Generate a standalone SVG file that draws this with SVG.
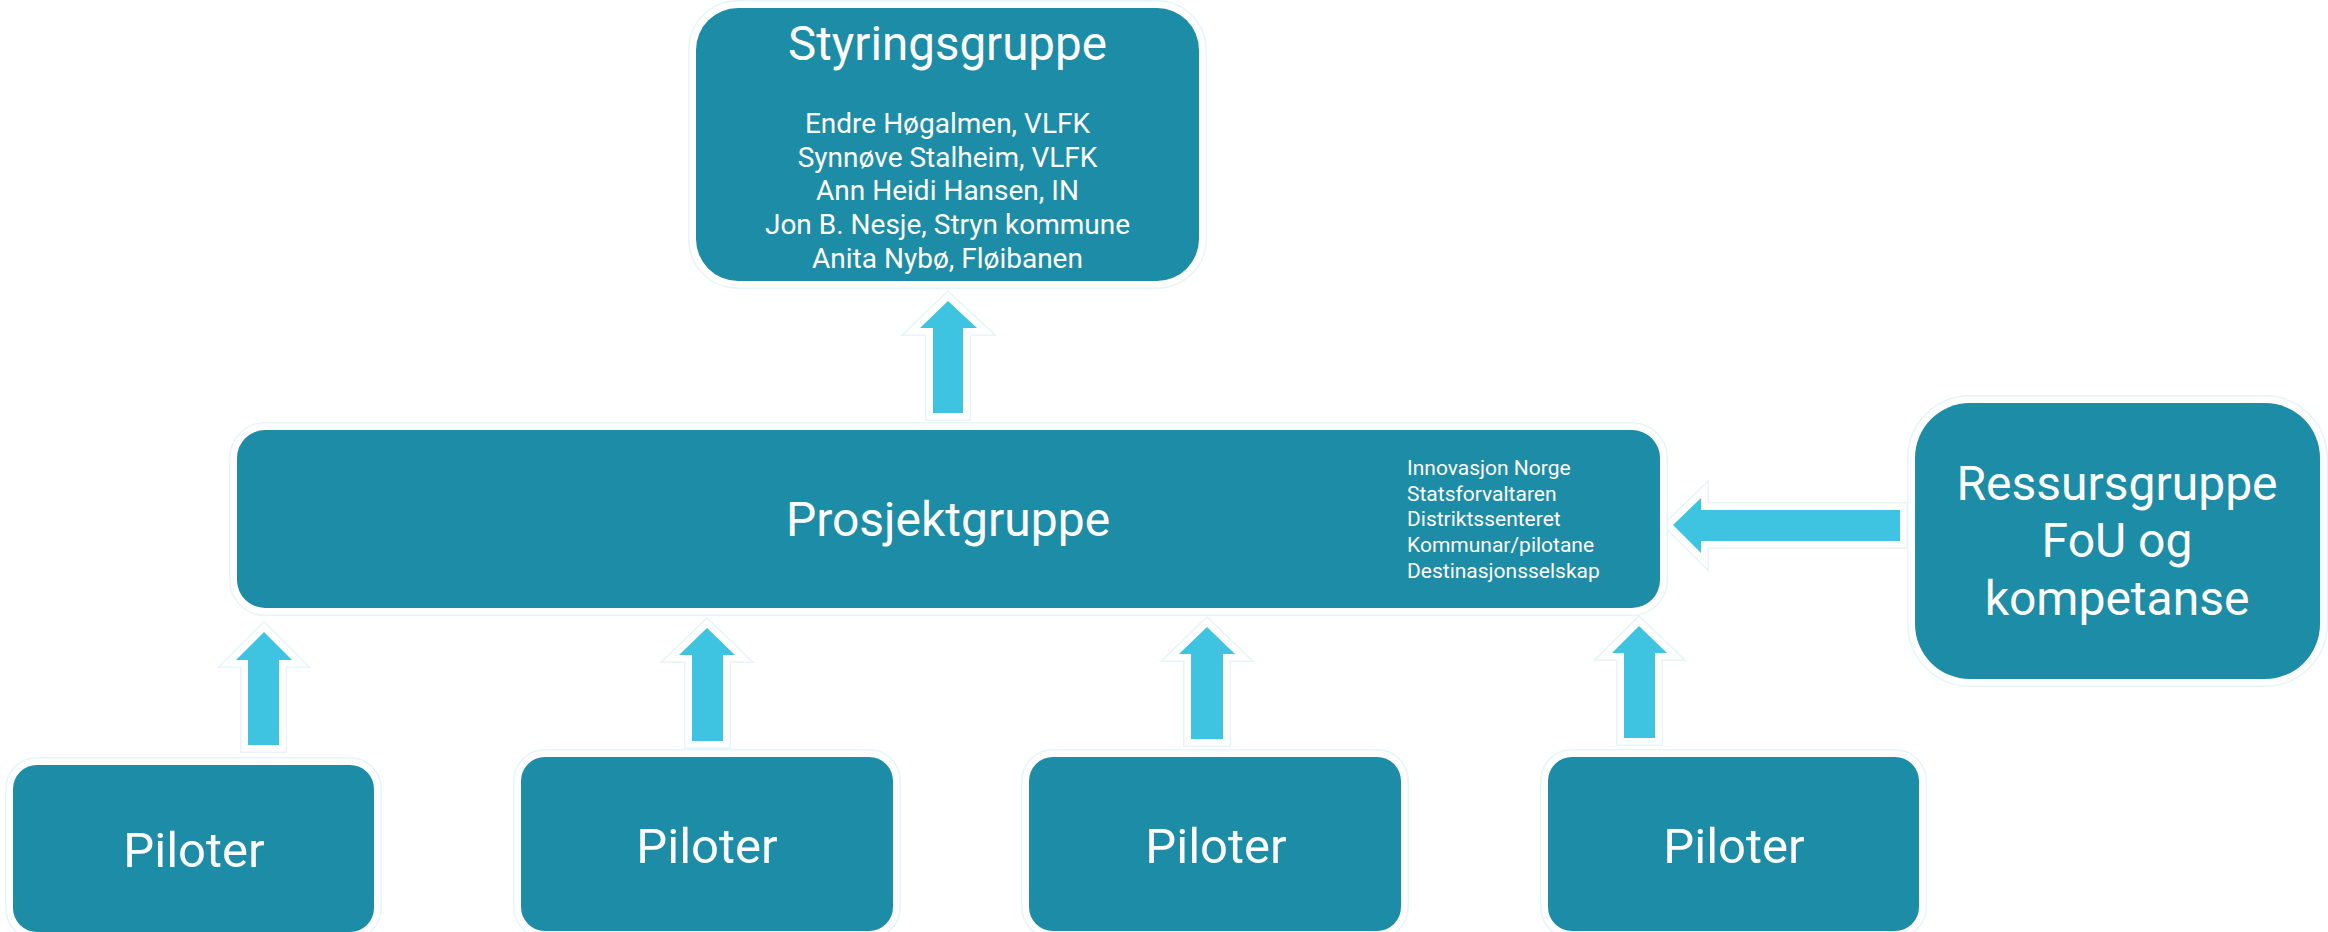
<svg xmlns="http://www.w3.org/2000/svg" width="2328" height="932" viewBox="0 0 2328 932">
  <style>
    .halo1 { fill: none; stroke: #e6f5f9; stroke-width: 16; stroke-linejoin: miter; }
    .halo2 { fill: none; stroke: #ffffff; stroke-width: 13; stroke-linejoin: miter; }
    .box { fill: #1d8ca6; }
    .arrow { fill: #3ec4e0; }
    .t { font-family: Roboto, "Liberation Sans", sans-serif; fill: #ffffff; }
    .big { font-size: 48px; text-anchor: middle; }
    .mid { font-size: 28px; text-anchor: middle; }
    .small { font-size: 21px; text-anchor: start; }
    .pil { font-size: 49px; text-anchor: middle; }
  </style>
  <defs>
    <path id="aUp0" d="M948,301 L977,328 L963,328 L963,413 L933,413 L933,328 L920,328 Z"/>
    <path id="aUp1" d="M264,632 L292,660 L279,660 L279,745 L248,745 L248,660 L236,660 Z"/>
    <path id="aUp2" d="M707,628 L735,655 L723,655 L723,741 L692,741 L692,655 L679,655 Z"/>
    <path id="aUp3" d="M1207,627 L1235,654 L1223,654 L1223,739 L1191,739 L1191,654 L1179,654 Z"/>
    <path id="aUp4" d="M1639,626 L1667,653 L1655,653 L1655,738 L1624,738 L1624,653 L1612,653 Z"/>
    <path id="aLeft" d="M1673,525 L1701,498 L1701,510 L1900,510 L1900,541 L1701,541 L1701,553 Z"/>
  </defs>
  <rect x="0" y="0" width="2328" height="932" fill="#ffffff"/>

  <g id="connectors">
    <use href="#aUp0" class="halo1"/><use href="#aUp0" class="halo2"/><use href="#aUp0" class="arrow"/>
    <use href="#aUp1" class="halo1"/><use href="#aUp1" class="halo2"/><use href="#aUp1" class="arrow"/>
    <use href="#aUp2" class="halo1"/><use href="#aUp2" class="halo2"/><use href="#aUp2" class="arrow"/>
    <use href="#aUp3" class="halo1"/><use href="#aUp3" class="halo2"/><use href="#aUp3" class="arrow"/>
    <use href="#aUp4" class="halo1"/><use href="#aUp4" class="halo2"/><use href="#aUp4" class="arrow"/>
    <use href="#aLeft" class="halo1"/><use href="#aLeft" class="halo2"/><use href="#aLeft" class="arrow"/>
  </g>

  <g id="styringsgruppe">
    <rect x="696" y="8" width="503" height="273" rx="42" class="halo1"/>
    <rect x="696" y="8" width="503" height="273" rx="42" class="halo2"/>
    <rect x="696" y="8" width="503" height="273" rx="42" class="box"/>
    <text x="947.5" y="60" class="t big" style="font-size:47.5px">Styringsgruppe</text>
    <text x="947.5" y="133" class="t mid">Endre Høgalmen, VLFK</text>
    <text x="947.5" y="167" class="t mid">Synnøve Stalheim, VLFK</text>
    <text x="947.5" y="200" class="t mid">Ann Heidi Hansen, IN</text>
    <text x="947.5" y="234" class="t mid">Jon B. Nesje, Stryn kommune</text>
    <text x="947.5" y="268" class="t mid">Anita Nybø, Fløibanen</text>
  </g>

  <g id="prosjektgruppe">
    <rect x="237" y="430" width="1423" height="178" rx="28" class="halo1"/>
    <rect x="237" y="430" width="1423" height="178" rx="28" class="halo2"/>
    <rect x="237" y="430" width="1423" height="178" rx="28" class="box"/>
    <text x="948" y="536" class="t big">Prosjektgruppe</text>
    <text x="1407" y="475" class="t small">Innovasjon Norge</text>
    <text x="1407" y="501" class="t small">Statsforvaltaren</text>
    <text x="1407" y="526" class="t small">Distriktssenteret</text>
    <text x="1407" y="552" class="t small">Kommunar/pilotane</text>
    <text x="1407" y="578" class="t small">Destinasjonsselskap</text>
  </g>

  <g id="ressursgruppe">
    <rect x="1915" y="403" width="405" height="276" rx="55" class="halo1"/>
    <rect x="1915" y="403" width="405" height="276" rx="55" class="halo2"/>
    <rect x="1915" y="403" width="405" height="276" rx="55" class="box"/>
    <text x="2117" y="500" class="t big">Ressursgruppe</text>
    <text x="2117" y="557" class="t big">FoU og</text>
    <text x="2117" y="615" class="t big">kompetanse</text>
  </g>

  <g id="piloter1">
    <rect x="13" y="765" width="361" height="167" rx="24" class="halo1"/>
    <rect x="13" y="765" width="361" height="167" rx="24" class="halo2"/>
    <rect x="13" y="765" width="361" height="167" rx="24" class="box"/>
    <text x="194" y="867" class="t pil">Piloter</text>
  </g>

  <g id="piloter2">
    <rect x="521" y="757" width="372" height="174" rx="24" class="halo1"/>
    <rect x="521" y="757" width="372" height="174" rx="24" class="halo2"/>
    <rect x="521" y="757" width="372" height="174" rx="24" class="box"/>
    <text x="707" y="863" class="t pil">Piloter</text>
  </g>

  <g id="piloter3">
    <rect x="1029" y="757" width="372" height="174" rx="24" class="halo1"/>
    <rect x="1029" y="757" width="372" height="174" rx="24" class="halo2"/>
    <rect x="1029" y="757" width="372" height="174" rx="24" class="box"/>
    <text x="1216" y="863" class="t pil">Piloter</text>
  </g>

  <g id="piloter4">
    <rect x="1548" y="757" width="371" height="174" rx="24" class="halo1"/>
    <rect x="1548" y="757" width="371" height="174" rx="24" class="halo2"/>
    <rect x="1548" y="757" width="371" height="174" rx="24" class="box"/>
    <text x="1734" y="863" class="t pil">Piloter</text>
  </g>
</svg>
